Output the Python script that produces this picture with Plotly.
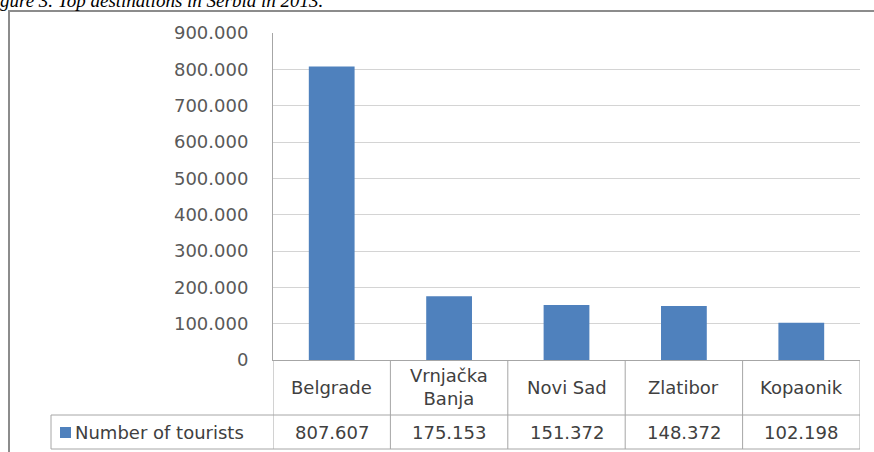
import plotly.graph_objects as go

# ---- data ----
categories = ["Belgrade", "Vrnjačka Banja", "Novi Sad", "Zlatibor", "Kopaonik"]
category_labels = ["Belgrade", "Vrnjačka<br>Banja", "Novi Sad", "Zlatibor", "Kopaonik"]
tourists = [807607, 175153, 151372, 148372, 102198]
series_name = "Number of tourists"
y_ticks = [0, 100000, 200000, 300000, 400000, 500000, 600000, 700000, 800000, 900000]
title_text = "gure 3. Top destinations in Serbia in 2013."

# ---- layout geometry (pixels) ----
W, H = 874, 452
L, R, T, B = 273, 14, 33, 92
PW, PH = W - L - R, H - T - B


def fx(px):
    return (px - L) / PW


def fy(py):
    return (H - B - py) / PH


def fmt(v):
    return f"{v:,}".replace(",", ".")


FONT = "DejaVu Sans"
TXT = "#404040"
LINE = "#a6a6a6"
BLUE = "#4F81BD"

fig = go.Figure()
fig.add_trace(go.Bar(x=categories, y=tourists, name=series_name,
                     marker=dict(color=BLUE, line=dict(width=0)),
                     showlegend=False))

shapes = []
# outer frame
shapes.append(dict(type="rect", xref="paper", yref="paper",
                   x0=fx(9), x1=fx(920), y0=fy(480), y1=fy(11),
                   line=dict(color="#8c8c8c", width=2), layer="below"))
# table vertical lines at category boundaries
for i in range(len(categories) + 1):
    shapes.append(dict(type="line", xref="x", yref="paper",
                       x0=i - 0.5, x1=i - 0.5, y0=fy(449), y1=fy(360),
                       line=dict(color=LINE, width=1)))
# table horizontal lines
for yy in (415, 449):
    shapes.append(dict(type="line", xref="paper", yref="paper",
                       x0=fx(51), x1=1, y0=fy(yy), y1=fy(yy),
                       line=dict(color=LINE, width=1)))
shapes.append(dict(type="line", xref="paper", yref="paper",
                   x0=fx(51), x1=fx(51), y0=fy(449), y1=fy(415),
                   line=dict(color=LINE, width=1)))
# legend key
shapes.append(dict(type="rect", xref="paper", yref="paper",
                   x0=fx(60), x1=fx(71), y0=fy(438), y1=fy(427),
                   fillcolor=BLUE, line=dict(width=0)))

annotations = []
for cat, lab, val in zip(categories, category_labels, tourists):
    annotations.append(dict(x=cat, xref="x", y=fy(387), yref="paper",
                            text=lab, showarrow=False, xanchor="center",
                            yanchor="middle",
                            font=dict(family=FONT, size=18, color=TXT)))
    annotations.append(dict(x=cat, xref="x", y=fy(432), yref="paper",
                            text=fmt(val), showarrow=False, xanchor="center",
                            yanchor="middle",
                            font=dict(family=FONT, size=18, color=TXT)))
annotations.append(dict(x=fx(73), xref="paper", y=fy(432), yref="paper",
                        text=series_name, showarrow=False, xanchor="left",
                        yanchor="middle",
                        font=dict(family=FONT, size=18, color=TXT)))
annotations.append(dict(x=fx(-2), xref="paper", y=fy(13), yref="paper",
                        text="<i>" + title_text + "</i>", showarrow=False,
                        xanchor="left", yanchor="bottom",
                        font=dict(family="Liberation Serif", size=19, color="#000000")))

fig.update_layout(
    width=W, height=H,
    margin=dict(l=L, r=R, t=T, b=B, pad=0),
    paper_bgcolor="white", plot_bgcolor="white",
    separators=",.",
    bargap=0.61,
    shapes=shapes,
    annotations=annotations,
    xaxis=dict(type="category", range=[-0.5, 4.5], showticklabels=False,
               showline=True, linecolor=LINE, linewidth=1, showgrid=False,
               ticks="", fixedrange=True),
    yaxis=dict(range=[0, 900000], tickvals=y_ticks, tickformat=",d",
               showgrid=True, gridcolor="#d4d4d4", gridwidth=1,
               showline=True, linecolor=LINE, linewidth=1, zeroline=False,
               ticks="", ticklabelstandoff=20,
               tickfont=dict(family=FONT, size=18, color="#595959")),
)

fig.write_html("out.html")
